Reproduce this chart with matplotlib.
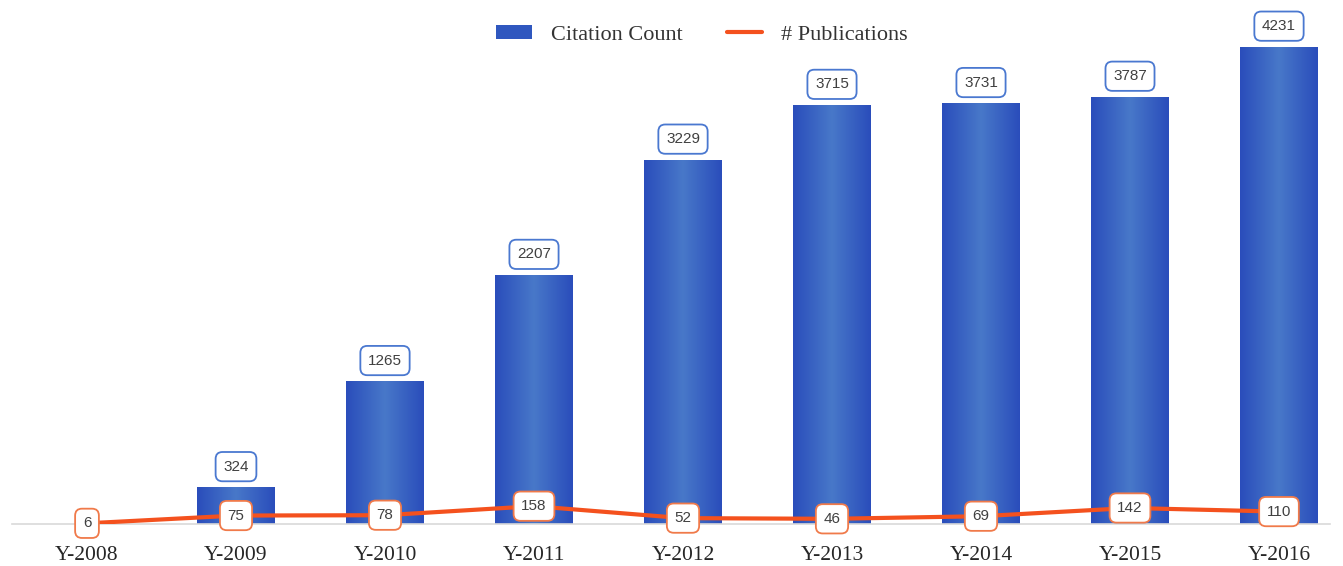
import matplotlib
matplotlib.use("Agg")
import matplotlib.pyplot as plt
import numpy as np
from matplotlib.colors import LinearSegmentedColormap

years = ["Y-2008", "Y-2009", "Y-2010", "Y-2011", "Y-2012", "Y-2013", "Y-2014", "Y-2015", "Y-2016"]
citations = [0, 324, 1265, 2207, 3229, 3715, 3731, 3787, 4231]
publications = [6, 75, 78, 158, 52, 46, 69, 142, 110]

W, H = 1343, 566
fig = plt.figure(figsize=(W / 100, H / 100), dpi=100)
ax = fig.add_axes([0, (H - 524) / H, 1, 524 / H])

x = np.arange(len(years))
bar_color = "#2f57bf"
line_color = "#f4511e"

x0px, step = 87.0, 149.0
xl = (-x0px / step, (W - x0px) / step)
ymax = 4231 * 524 / 477

bars = ax.bar(x, citations, width=0.52, color=bar_color, zorder=2, label="Citation Count")

# gradient fill on bars
cmap = LinearSegmentedColormap.from_list("g", ["#2a4dbb", "#4878c9", "#2a4dbb"])
grad = np.linspace(0, 1, 256).reshape(1, -1)
for b, v in zip(bars, citations):
    if v <= 0:
        continue
    bx = b.get_x()
    im = ax.imshow(grad, extent=[bx, bx + b.get_width(), 0, v], aspect="auto",
                   cmap=cmap, zorder=2.1)
    im.set_clip_path(b)
ax.set_xlim(*xl)
ax.set_ylim(0, ymax)

ax.plot(x, publications, color=line_color, lw=3.0, zorder=3, label="# Publications",
        solid_capstyle="round")

label_font = dict(family="Liberation Sans", size=11, color="#404040")
for xi, v in zip(x, citations):
    if v <= 0:
        continue
    ax.annotate(str(v), (xi, v), xytext=(0, 15), textcoords="offset points",
                ha="center", va="center", **label_font, zorder=5,
                bbox=dict(boxstyle="round,pad=0.5,rounding_size=0.45", fc="white",
                          ec="#4a78d0", lw=1.3), annotation_clip=False)
for xi, v in zip(x, publications):
    ax.annotate(str(v), (xi, v), xytext=(0, 0), textcoords="offset points",
                ha="center", va="center", **label_font, zorder=6,
                bbox=dict(boxstyle="round,pad=0.5,rounding_size=0.45", fc="white",
                          ec="#f07a4a", lw=1.3), annotation_clip=False)

for s in ["top", "right", "left"]:
    ax.spines[s].set_visible(False)
ax.spines["bottom"].set_color("#d9d9d9")
ax.spines["bottom"].set_linewidth(1.2)
ax.spines["bottom"].set_bounds((12 - x0px) / step, (1330 - x0px) / step)
ax.set_yticks([])
ax.set_xticks(x)
ax.set_xticklabels(years, fontfamily="Liberation Serif", fontsize=15.5, color="#262626")
ax.tick_params(axis="x", length=0, pad=16)

leg = fig.legend(handles=[bars, ax.lines[0]], labels=["Citation Count", "# Publications"],
                 loc="center", bbox_to_anchor=(702 / W, 1 - 35 / H), ncol=2,
                 frameon=False, prop=dict(family="Liberation Serif", size=16),
                 handlelength=1.6, handleheight=0.55, columnspacing=2.0, handletextpad=0.85)
for t in leg.get_texts():
    t.set_color("#333333")

fig.savefig("out.png", dpi=100)
